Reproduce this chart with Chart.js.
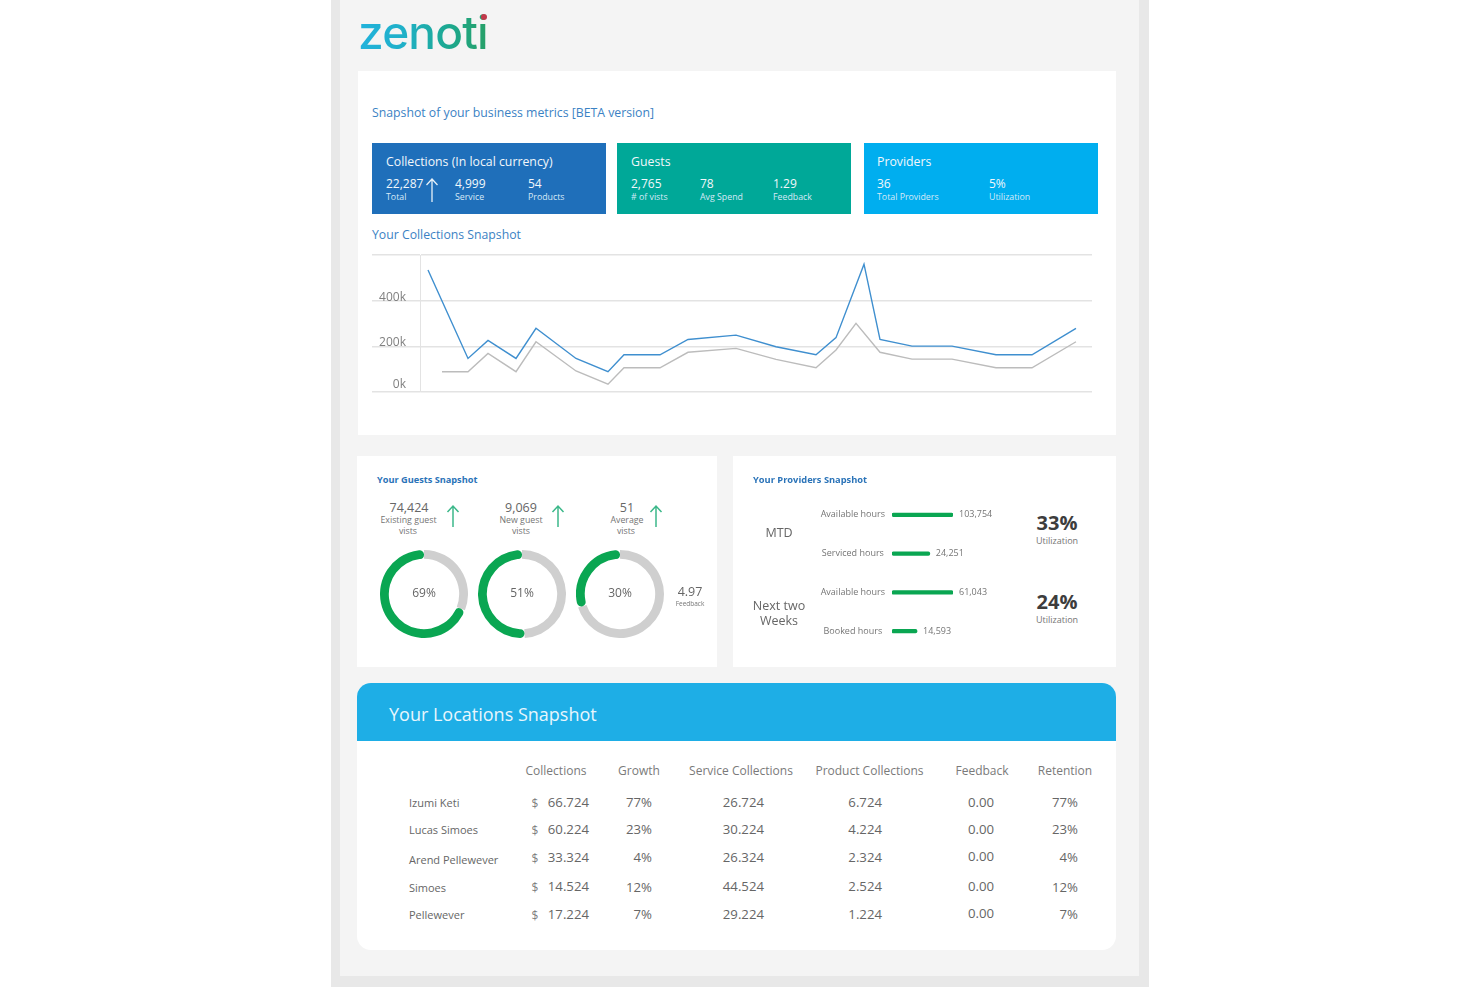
<!DOCTYPE html>
<html>
<head>
<meta charset="utf-8">
<title>zenoti snapshot</title>
<script src="https://cdn.jsdelivr.net/npm/chart.js@4"></script>
<style>
  html, body { margin: 0; padding: 0; background: #fff; }
  body { position: relative; width: 1480px; height: 987px; overflow: hidden; font-family: "Open Sans", sans-serif; }
  .box { position: absolute; }
  .t { position: absolute; white-space: nowrap; line-height: 1; transform: translateY(-50%); }
  .c { transform: translate(-50%, -50%); }
  .r { transform: translate(-100%, -50%); }
  canvas { position: absolute; display: block; }
  svg { position: absolute; }
  #logo { font-family: Inter, sans-serif; font-size: 46px; font-weight: 500; letter-spacing: -0.8px;
    background: linear-gradient(90deg, #21b2dc 0%, #1fb0c8 35%, #1ca88f 70%, #27a067 100%);
    -webkit-background-clip: text; background-clip: text; }
</style>
</head>
<body>
<div class="box" style="left:331px;top:0;width:818px;height:987px;background:#e8e8e8"></div>
<div class="box" style="left:340px;top:0;width:799px;height:976px;background:#f4f4f4"></div>
<div class="box" style="left:358px;top:71px;width:758px;height:364px;background:#fff"></div>
<div class="box" style="left:357px;top:456px;width:360px;height:211px;background:#fff"></div>
<div class="box" style="left:733px;top:456px;width:383px;height:211px;background:#fff"></div>
<div class="box" style="left:357px;top:683px;width:759px;height:267px;background:#fff;border-radius:14px"></div>
<div class="box" style="left:357px;top:683px;width:759px;height:58px;background:#1eaee6;border-radius:14px 14px 0 0"></div>
<div class="box" style="left:372px;top:143px;width:234px;height:71px;background:#1f6fba"></div>
<div class="box" style="left:617px;top:143px;width:234px;height:71px;background:#00a898"></div>
<div class="box" style="left:864px;top:143px;width:234px;height:71px;background:#00aeef"></div>

<canvas id="collections-chart" style="left:360px;top:246px;width:740px;height:160px" width="740" height="160"></canvas>
<canvas id="donut-0" style="left:380px;top:550px;width:88px;height:88px" width="88" height="88"></canvas>
<canvas id="donut-1" style="left:478px;top:550px;width:88px;height:88px" width="88" height="88"></canvas>
<canvas id="donut-2" style="left:576px;top:550px;width:88px;height:88px" width="88" height="88"></canvas>
<canvas id="hours-chart" style="left:815px;top:483px;width:190px;height:180px" width="190" height="180"></canvas>

<svg style="left:424px;top:176px" width="16" height="27" viewBox="0 0 16 27"><path d="M8 26V3M2.5 9L8 3l5.500 6" fill="none" stroke="#e6f0f8" stroke-width="1.300"/></svg>
<svg style="left:445px;top:503px" width="16" height="25" viewBox="0 0 16 25"><path d="M8 24V3M2.500 9L8 3l5.500 6" fill="none" stroke="#3cb88a" stroke-width="1.500"/></svg>
<svg style="left:550px;top:503px" width="16" height="25" viewBox="0 0 16 25"><path d="M8 24V3M2.500 9L8 3l5.500 6" fill="none" stroke="#3cb88a" stroke-width="1.500"/></svg>
<svg style="left:648px;top:503px" width="16" height="25" viewBox="0 0 16 25"><path d="M8 24V3M2.500 9L8 3l5.500 6" fill="none" stroke="#3cb88a" stroke-width="1.500"/></svg>

<div id="labels"></div>

<script>
// line chart, x is a day number along the period
const blueDays = [2, 12, 17, 24, 29, 39, 47, 51, 60, 67, 79, 89, 99, 104, 111, 115, 123, 133, 144, 153, 164];
const blueValues = [534, 147, 226, 147, 279, 147, 89, 163, 163, 230, 249, 198, 163, 238, 560, 230, 201, 201, 163, 163, 279];
const greyDays = [5.5, 12, 17, 24, 29, 39, 47, 51, 60, 67, 79, 89, 99, 104, 109, 115, 123, 133, 144, 153, 164];
const greyValues = [89, 89, 169, 89, 220, 92, 34, 106, 106, 174, 191, 143, 106, 184, 301, 174, 144, 144, 106, 106, 220];
const yTicks = ['0k', '200k', '400k', ''];

// guests donuts
const donutValues = [69, 51, 30];

// providers bars, drawn length is share of the longest bar in its block
const hourLabels = ['Available hours', 'Serviced hours', 'Available hours', 'Booked hours'];
const hourBars = [100, 62, 100, 41];
const hourTexts = ['103,754', '24,251', '61,043', '14,593'];

// locations table
const tableHeads = ['Collections', 'Growth', 'Service Collections', 'Product Collections', 'Feedback', 'Retention'];
const locationNames = ['Izumi Keti', 'Lucas Simoes', 'Arend Pellewever', 'Simoes', 'Pellewever'];
const collections = ['66.724', '60.224', '33.324', '14.524', '17.224'];
const growth = ['77%', '23%', '4%', '12%', '7%'];
const serviceCollections = ['26.724', '30.224', '26.324', '44.524', '29.224'];
const productCollections = ['6.724', '4.224', '2.324', '2.524', '1.224'];
const feedback = ['0.00', '0.00', '0.00', '0.00', '0.00'];
const retention = ['77%', '23%', '4%', '12%', '7%'];

const labels = document.getElementById('labels');

function text(x, y, str, size, color, align, weight) {
    const el = document.createElement('div');
    el.className = 't' + (align === 'c' ? ' c' : align === 'r' ? ' r' : '');
    el.textContent = str;
    el.style.left = x + 'px';
    el.style.top = y + 'px';
    el.style.fontSize = size + 'px';
    el.style.color = color;
    if (weight) el.style.fontWeight = weight;
    labels.appendChild(el);
    return el;
}

// header and tiles
const logo = text(358, 32, 'zenoti', 46, 'transparent');
logo.id = 'logo';
const dot = document.createElement('div');
dot.className = 'box';
dot.style.cssText = 'left:481px;top:14px;width:6px;height:6px;border-radius:50%;background:#c0394b';
labels.appendChild(dot);

text(372, 113, 'Snapshot of your business metrics [BETA version]', 12.28, '#3b82c4');
text(372, 235, 'Your Collections Snapshot', 12.25, '#3b82c4');

const W = '#f2f7fb', S = '#d6e9f7';
text(386, 161.5, 'Collections (In local currency)', 12.3, W);
text(386, 183.5, '22,287', 12, W); text(386, 196.5, 'Total', 8.8, S);
text(455, 183.5, '4,999', 12, W); text(455, 196.5, 'Service', 8.8, S);
text(528, 183.5, '54', 12, W); text(528, 196.5, 'Products', 8.8, S);
text(631, 161.5, 'Guests', 12.3, W);
text(631, 183.5, '2,765', 12, W); text(631, 196.5, '# of vists', 8.8, S);
text(700, 183.5, '78', 12, W); text(700, 196.5, 'Avg Spend', 8.8, S);
text(773, 183.5, '1.29', 12, W); text(773, 196.5, 'Feedback', 8.8, S);
text(877, 161.5, 'Providers', 12.3, W);
text(877, 183.5, '36', 12, W); text(877, 196.5, 'Total Providers', 8.8, S);
text(989, 183.5, '5%', 12, W); text(989, 196.5, 'Utilization', 8.8, S);

// guests card
const G = '#666666';
const L = '#757575';
text(377, 480, 'Your Guests Snapshot', 9.2, '#2a73b8', 'l', 700);
text(409, 507.5, '74,424', 12.5, G, 'c'); text(408.5, 520, 'Existing guest', 8.8, L, 'c'); text(408, 531, 'vists', 8.8, L, 'c');
text(521, 507.5, '9,069', 12.5, G, 'c'); text(521, 520, 'New guest', 8.8, L, 'c'); text(521, 531, 'vists', 8.8, L, 'c');
text(627, 507.5, '51', 12.5, G, 'c'); text(627, 520, 'Average', 8.8, L, 'c'); text(626, 531, 'vists', 8.8, L, 'c');
text(424, 593, donutValues[0] + '%', 12, G, 'c');
text(522, 593, donutValues[1] + '%', 12, G, 'c');
text(620, 593, donutValues[2] + '%', 12, G, 'c');
text(690, 592, '4.97', 12.5, G, 'c');
text(690, 604, 'Feedback', 6.5, L, 'c');

// providers card
text(753, 480, 'Your Providers Snapshot', 9.3, '#2a73b8', 'l', 700);
text(779, 533, 'MTD', 12.5, G, 'c');
text(779, 606, 'Next two', 12.5, G, 'c');
text(779, 621, 'Weeks', 12.5, G, 'c');
text(1057, 523, '33%', 20, '#3d3d3d', 'c', 700);
text(1057, 540, 'Utilization', 9, L, 'c');
text(1057, 602, '24%', 20, '#3d3d3d', 'c', 700);
text(1057, 619, 'Utilization', 9, L, 'c');

// locations table
text(389, 714, 'Your Locations Snapshot', 18, '#e8f6fd');
const headX = [556, 639, 741, 869.500, 982, 1065];
tableHeads.forEach((h, i) => text(headX[i], 771, h, 12, '#7a7a7a', 'c'));
const nameY = [802, 829, 859, 887, 914];
const rowY = [802.5, 829.5, 858, 887, 914.5];
const growthY = [802.5, 829.5, 857.5, 888, 914.5];
const feedbackY = [802.5, 829.5, 856.5, 886.5, 913.5];
locationNames.forEach((n, i) => {
    text(409, nameY[i], n, 11, G);
    text(535, rowY[i] + 1, '$', 12, '#808080', 'c');
    text(589, rowY[i], collections[i], 13.2, G, 'r');
    text(652, growthY[i], growth[i], 13.2, G, 'r');
    text(764, rowY[i], serviceCollections[i], 13.2, G, 'r');
    text(882, rowY[i], productCollections[i], 13.2, G, 'r');
    text(994, feedbackY[i], feedback[i], 13.2, G, 'r');
    text(1078, growthY[i], retention[i], 13.2, G, 'r');
});

// The tick labels sit a little above their grid lines, more so at the bottom
const tickLabelShift = [-3, 0, 1, 0];
const shiftTickLabels = {
    id: 'shiftTickLabels',
    afterLayout(chart) {
        chart.scales.y.getLabelItems(chart.chartArea).forEach((item, i) => {
            item.options.translation[1] += tickLabelShift[i];
        });
    }
};

// Render collections line chart
new Chart(document.getElementById('collections-chart'), {
    type: 'line',
    data: {
        datasets: [{
            data: greyDays.map((d, i) => ({ x: d, y: greyValues[i] })),
            borderColor: '#bcbcbc',
            borderWidth: 1.4,
            pointRadius: 0,
            tension: 0
        }, {
            data: blueDays.map((d, i) => ({ x: d, y: blueValues[i] })),
            borderColor: '#3f8fcf',
            borderWidth: 1.4,
            pointRadius: 0,
            tension: 0
        }]
    },
    options: {
        responsive: false,
        animation: false,
        layout: { padding: { top: 9, right: 8, bottom: 14, left: 0 } },
        plugins: { legend: { display: false }, tooltip: { enabled: false } },
        scales: {
            x: { type: 'linear', min: 0, max: 168, display: false },
            y: {
                min: 0,
                max: 600,
                afterFit: scale => { scale.width = 60; },
                grid: { color: '#e3e3e3', lineWidth: 1.4, tickLength: 48 },
                border: { display: true, color: '#e3e3e3' },
                ticks: {
                    stepSize: 200,
                    padding: -34,
                    labelOffset: -4,
                    color: '#808080',
                    font: { family: '"Open Sans"', size: 12 },
                    callback: (v, i) => yTicks[i]
                }
            }
        }
    },
    plugins: [shiftTickLabels]
});

// Render guest donuts
donutValues.forEach((v, i) => {
    new Chart(document.getElementById('donut-' + i), {
        type: 'doughnut',
        data: {
            labels: ['Rest', 'Share'],
            datasets: [{
                data: [100 - v, v],
                backgroundColor: ['#cfcfcf', '#0aa652'],
                borderWidth: 0,
                borderRadius: [0, 5]
            }]
        },
        options: {
            responsive: false,
            animation: false,
            cutout: '80%',
            plugins: { legend: { display: false }, tooltip: { enabled: false } }
        }
    });
});

// Text at the end of each hours bar
const barEndText = {
    id: 'barEndText',
    afterDatasetsDraw(chart) {
        const ctx = chart.ctx;
        ctx.save();
        ctx.font = '9px "Open Sans"';
        ctx.fillStyle = '#757575';
        ctx.textBaseline = 'middle';
        chart.getDatasetMeta(0).data.forEach((bar, i) => {
            ctx.fillText(hourTexts[i], bar.x + 6, bar.y);
        });
        ctx.restore();
    }
};

// Render providers hours bars
new Chart(document.getElementById('hours-chart'), {
    type: 'bar',
    data: {
        labels: hourLabels,
        datasets: [{
            data: hourBars,
            backgroundColor: '#0aa652',
            barThickness: 3.500,
            borderRadius: 2,
            borderSkipped: false
        }]
    },
    options: {
        indexAxis: 'y',
        responsive: false,
        animation: false,
        layout: { padding: { right: 52 } },
        plugins: { legend: { display: false }, tooltip: { enabled: false } },
        scales: {
            x: { display: false, min: 0, max: 100 },
            y: {
                afterFit: scale => { scale.width = 77; },
                grid: { display: false, drawTicks: false },
                border: { display: false },
                ticks: {
                    padding: 7,
                    crossAlign: 'center',
                    color: '#757575',
                    font: { family: '"Open Sans"', size: 9 }
                }
            }
        }
    },
    plugins: [barEndText]
});
</script>
</body>
</html>
